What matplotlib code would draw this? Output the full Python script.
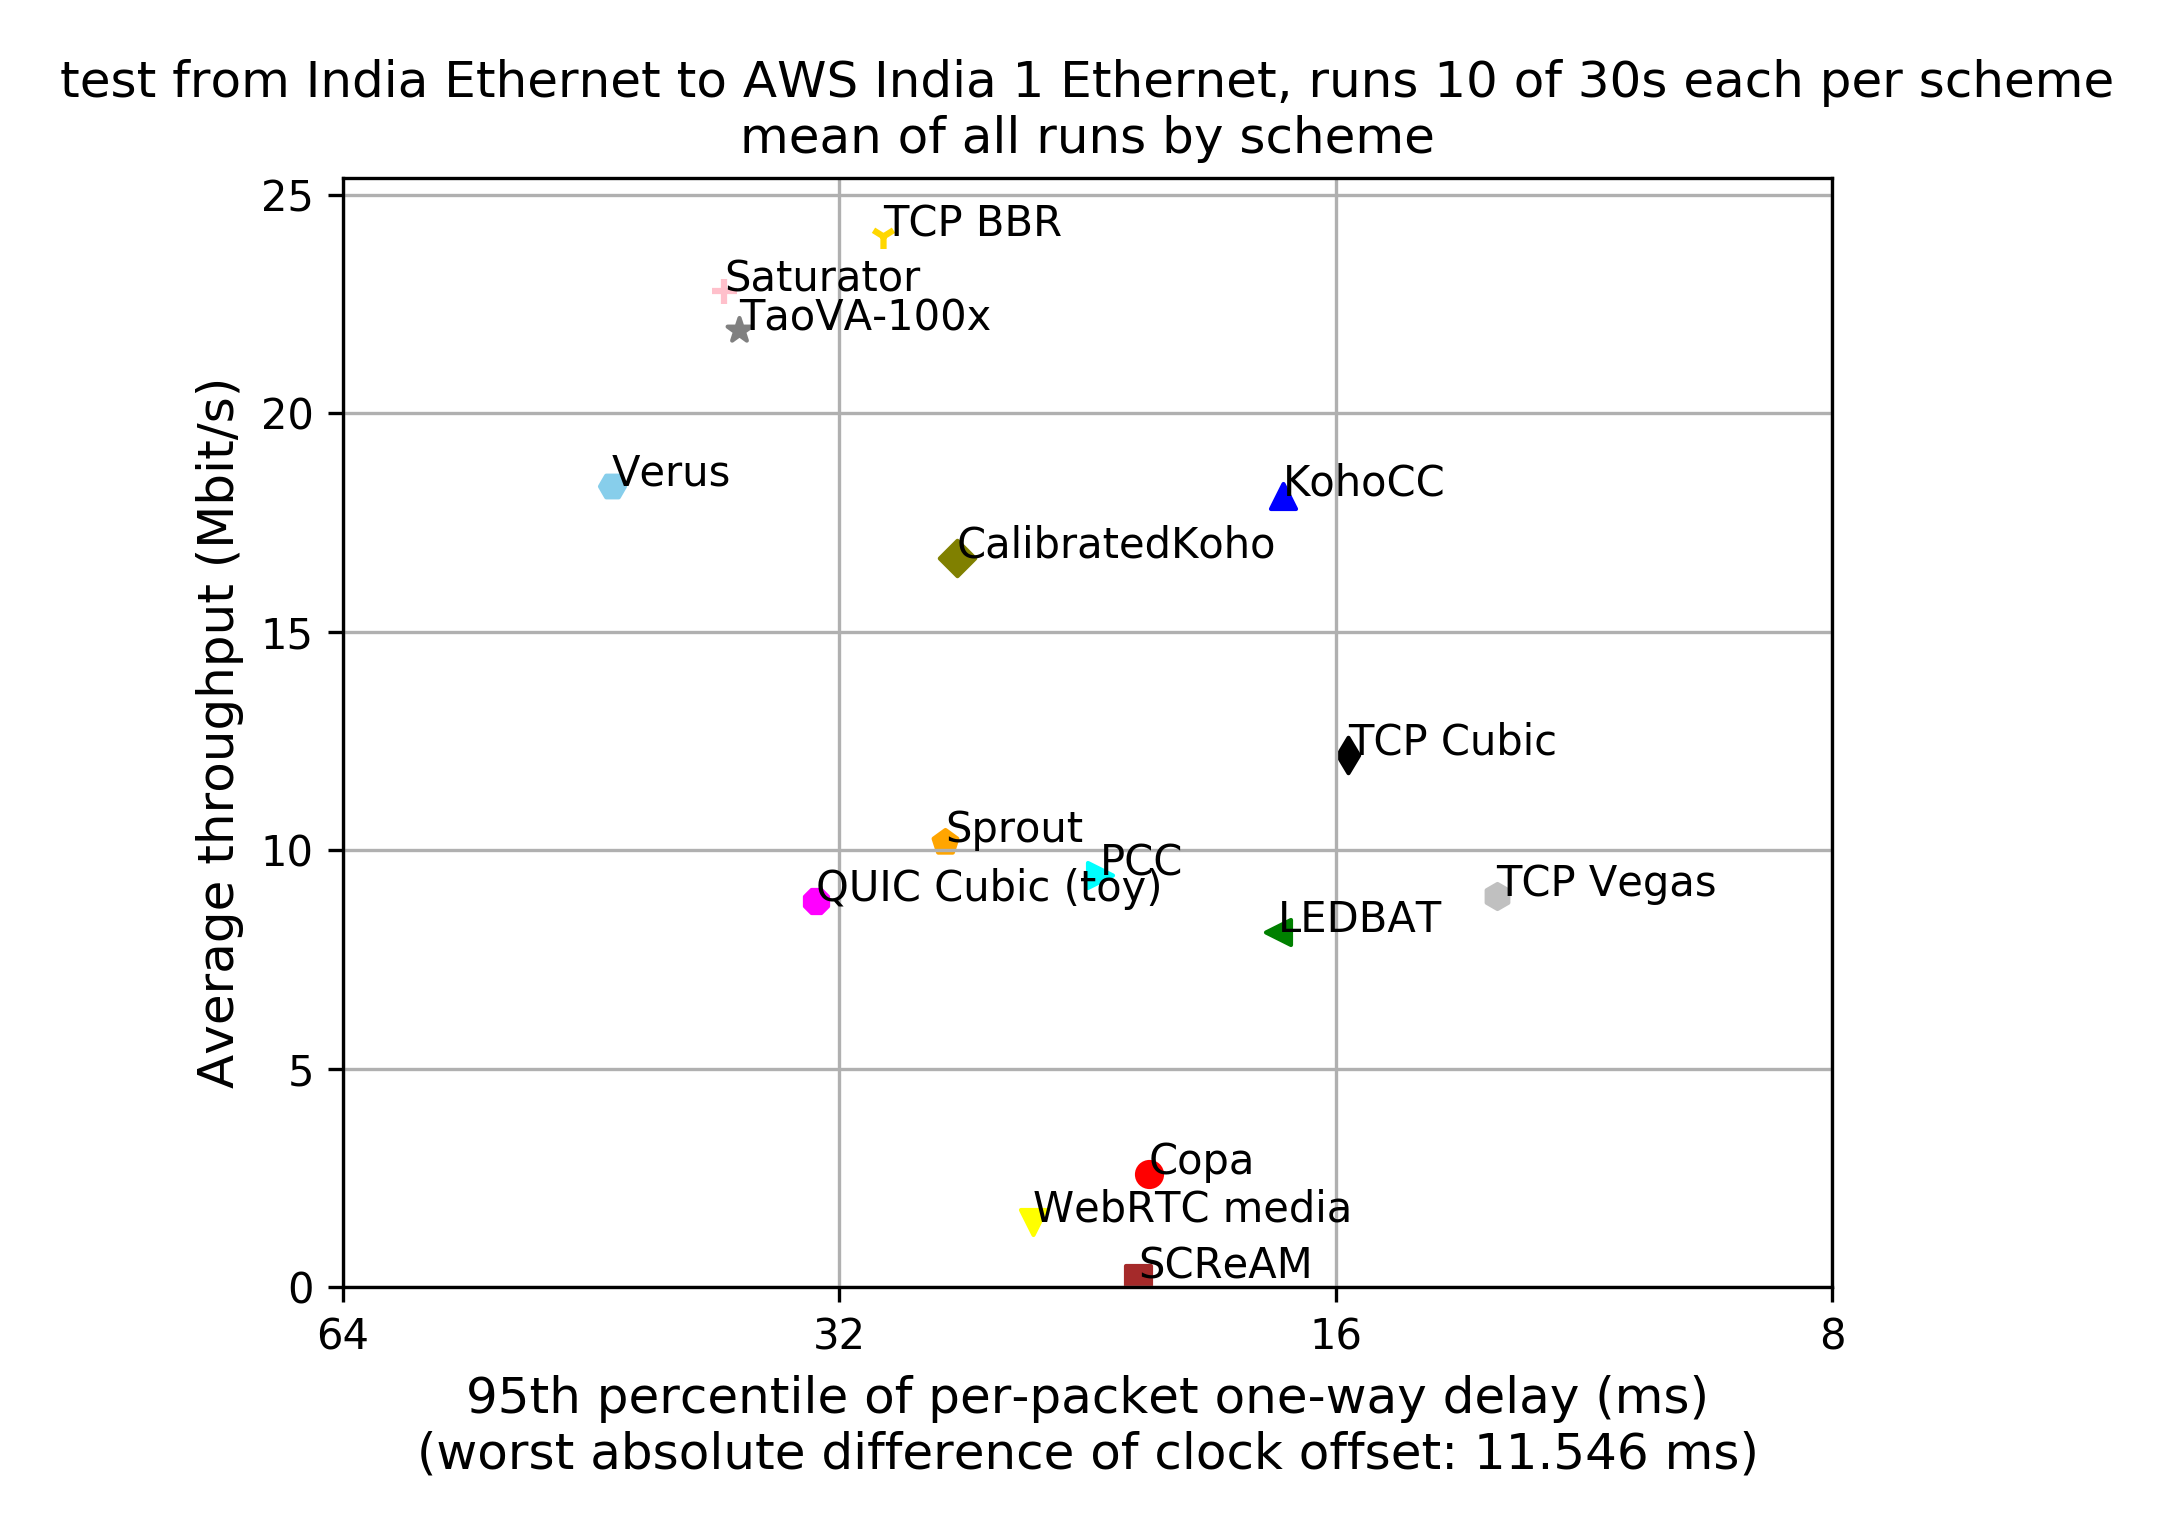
import matplotlib
matplotlib.use("Agg")
import matplotlib.pyplot as plt

schemes = ['TCP BBR', 'Saturator', 'TaoVA-100x', 'Verus', 'CalibratedKoho',
           'KohoCC', 'Sprout', 'QUIC Cubic (toy)', 'PCC', 'LEDBAT',
           'TCP Cubic', 'TCP Vegas', 'Copa', 'WebRTC media', 'SCReAM']
delays = [30.1, 37.6, 36.8, 43.96, 27.15,
          17.23, 27.61, 33.08, 22.25, 17.35,
          15.72, 12.78, 20.77, 24.42, 21.09]
throughputs = [24.06, 22.80, 21.91, 18.34, 16.70,
               18.11, 10.19, 8.84, 9.43, 8.13,
               12.18, 8.96, 2.59, 1.49, 0.20]
markers = ['1', '+', '*', 'H', 'D',
           '^', 'p', '8', '>', '<',
           'd', 'h', 'o', 'v', 's']
colors = ['gold', 'pink', 'gray', 'skyblue', 'olive',
          'blue', 'orange', 'magenta', 'cyan', 'green',
          'black', 'silver', 'red', 'yellow', 'brown']

x_ticks = [64, 32, 16, 8]
x_tick_labels = ['64', '32', '16', '8']
y_ticks = [0, 5, 10, 15, 20, 25]

title = ('test from India Ethernet to AWS India 1 Ethernet, runs 10 of 30s each per scheme\n'
         'mean of all runs by scheme')
xlabel = ('95th percentile of per-packet one-way delay (ms)\n'
          '(worst absolute difference of clock offset: 11.546 ms)')
ylabel = 'Average throughput (Mbit/s)'

plt.rcParams['font.family'] = ['DejaVu Sans']
plt.rcParams['text.kerning_factor'] = 6
fig = plt.figure(figsize=(2174 / 300, 1538 / 300), dpi=300)
ax = fig.add_axes([343 / 2174, 1 - 1287 / 1538, (1832 - 343) / 2174, (1287 - 178) / 1538])

for name, d, t, m, c in zip(schemes, delays, throughputs, markers, colors):
    ax.scatter(d, t, color=c, marker=m)
    ax.annotate(name, (d, t), fontsize=10)

ax.set_xscale('log', base=2)
ax.set_xlim(64, 8)
ax.set_xticks(x_ticks)
ax.set_xticklabels(x_tick_labels)
ax.minorticks_off()
ax.set_ylim(0, 25.39)
ax.set_yticks(y_ticks)
ax.tick_params(labelsize=10)
ax.grid(True)

ax.set_title(title, fontsize=12)
ax.set_xlabel(xlabel, fontsize=12)
ax.set_ylabel(ylabel, fontsize=12)

fig.savefig('out.png', dpi=300)
